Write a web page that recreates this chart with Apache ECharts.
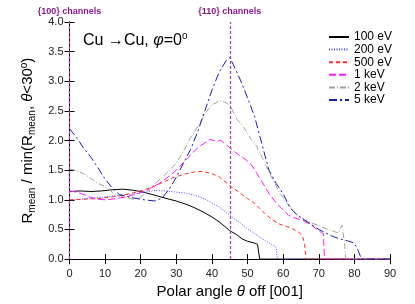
<!DOCTYPE html>
<html><head><meta charset="utf-8">
<script src="https://cdn.jsdelivr.net/npm/echarts@6/dist/echarts.min.js"></script>
<style>html,body{margin:0;padding:0;background:#fff}#c{width:415px;height:304px}</style>
</head><body><div id="c"></div>
<script>
const seriesNames = ['100 eV','200 eV','500 eV','1 keV','2 keV','5 keV'];
const xTicks = [0,10,20,30,40,50,60,70,80,90];
const yTicks = [0,0.5,1,1.5,2,2.5,3,3.5,4];
const channelAngles = [0,45];
const channelLabels = ['{100} channels','{110} channels'];

const e100 = [[0,1.14],[3,1.15],[6,1.14],[9,1.15],[12,1.17],[15,1.18],[18,1.16],[20,1.14],[22,1.11],[25,1.06],[28,1.01],[30,0.98],[33,0.92],[35,0.87],[38,0.78],[40,0.71],[42,0.63],[44,0.53],[45,0.48],[47,0.41],[48.5,0.34],[50,0.30],[52,0.27],[52.8,0.25],[53.4,0],[90,0]];
const e200 = [[0,1.00],[3,1.01],[6,1.03],[10,1.05],[14,1.07],[18,1.10],[21,1.13],[24,1.16],[27,1.15],[30,1.13],[33,1.11],[35,1.08],[37,1.04],[40,0.95],[42,0.88],[45,0.74],[48,0.61],[50,0.51],[52,0.43],[55,0.31],[57,0.24],[58,0.2],[58.4,0],[90,0]];
const e500 = [[0,1.00],[4,1.01],[8,1.02],[12,1.05],[15,1.08],[18,1.12],[20,1.15],[23,1.21],[26,1.29],[29,1.37],[32,1.43],[35,1.47],[37.5,1.48],[40,1.44],[42,1.39],[45,1.24],[48,1.11],[50,1.02],[52,0.94],[55,0.76],[57,0.66],[59,0.59],[61,0.55],[63,0.50],[64.5,0.45],[65.5,0.38],[66,0.25],[66.4,0],[90,0]];
const e1k = [[0,1.15],[2,1.13],[4,1.09],[6,1.04],[8,1.01],[10,1.00],[13,1.02],[16,1.05],[19,1.10],[22,1.17],[25,1.27],[28,1.40],[30,1.50],[32,1.63],[34,1.76],[36,1.88],[38,1.96],[39.5,2.02],[41,1.99],[42.5,2.0],[44,1.93],[45,1.88],[47,1.78],[49,1.70],[51,1.60],[53,1.41],[55,1.21],[56.2,1.09],[58,0.95],[60,0.83],[61.5,0.74],[63,0.70],[65.6,0.65],[68,0.57],[70.7,0.45],[71.3,0.43],[71.6,0],[90,0]];
const e2k = [[0,1.52],[2,1.49],[4,1.44],[6,1.36],[8,1.28],[10,1.22],[12,1.13],[14,1.07],[16,1.04],[18,1.01],[20,1.05],[22,1.15],[24,1.27],[26,1.38],[28,1.49],[30,1.62],[32,1.82],[34,2.05],[36,2.23],[38,2.45],[40,2.6],[42,2.67],[43.5,2.65],[45,2.6],[47,2.36],[49,2.22],[51,2.02],[52.5,1.91],[55,1.6],[57,1.35],[59,1.12],[61,0.95],[63,0.8],[64,0.74],[66,0.66],[68,0.61],[71,0.54],[73,0.49],[75.5,0.44],[76.5,0.57],[77.2,0.3],[77.6,0],[90,0]];
const e5k = [[0,2.2],[2,2.05],[4,1.87],[6,1.72],[8,1.54],[10,1.35],[12,1.2],[14,1.09],[16,1.06],[18,1.03],[21,1.0],[24,0.98],[26,1.03],[28,1.18],[30,1.38],[32,1.62],[34,1.85],[36,2.15],[38,2.5],[40,2.85],[42,3.15],[44,3.35],[45,3.4],[46,3.28],[48,3.02],[50,2.72],[52,2.4],[54,1.95],[56,1.5],[58,1.28],[60,1.1],[62,0.86],[64,0.74],[66,0.66],[68,0.58],[70,0.5],[72,0.44],[74,0.38],[76,0.34],[78,0.31],[80,0.27],[81,0.15],[82,0],[90,0]];

const dataSets = [e100,e200,e500,e1k,e2k,e5k];
const colors = ['#000000','#4a4aff','#ff2a2a','#ff1aff','#a0a0a0','#1c1ca8'];
const dashes = ['solid',[1,1.5],[4,3],[7,3],[6,2,1,2],[8,3,2,3]];

const FONT = 'Liberation Sans, Arial, sans-serif';
const chart = echarts.init(document.getElementById('c'), null, {renderer:'canvas'});

const series = seriesNames.map((n,i)=>({
  name:n, type:'line', data:dataSets[i], showSymbol:false, symbol:'none',
  xAxisIndex:0, yAxisIndex:0,
  lineStyle:{color:colors[i], width:1, type:dashes[i]},
  itemStyle:{color:colors[i]}, z: 3
}));
series.push({
  name:'channels', type:'line', data:[], xAxisIndex:0, yAxisIndex:0,
  markLine:{
    silent:true, symbol:['none','none'],
    lineStyle:{color:'#a347a3', type:[3,2], width:1.3},
    label:{position:'end', color:'#8a1a8a', fontWeight:'bold', fontSize:9, fontFamily:FONT, distance:6,
      formatter:(p)=>channelLabels[channelAngles.indexOf(p.value)]},
    data: channelAngles.map(a=>({xAxis:a}))
  }, z:4
});

const axisCommon = {
  axisLine:{show:true, lineStyle:{color:'#000', width:1}},
  axisTick:{show:true, inside:true, length:5, lineStyle:{color:'#000'}},
  splitLine:{show:false}
};

chart.setOption({
  animation:false,
  textStyle:{fontFamily:FONT},
  grid:{left:69.5, right:25, top:22, bottom:37, containLabel:false},
  title:{
    left:78, top:26,
    text:'{a|Cu →Cu, }{i|φ}{a|=0}{s|o}',
    textStyle:{rich:{
      a:{fontSize:16, fontFamily:FONT, color:'#000', fontWeight:'normal'},
      i:{fontSize:16, fontFamily:FONT, fontStyle:'italic', color:'#000', fontWeight:'normal'},
      s:{fontSize:10, fontFamily:FONT, color:'#000', fontWeight:'normal', verticalAlign:'top', padding:[0,0,10,0]}
    }}
  },
  legend:{
    orient:'vertical', left:323, top:26, itemWidth:20, itemHeight:10, itemGap:0.6,
    data:seriesNames,
    textStyle:{fontSize:12, fontFamily:FONT, color:'#000'},
    itemStyle:{color:'rgba(0,0,0,0)', borderWidth:0, opacity:0}
  },
  xAxis:[
    Object.assign({}, axisCommon, {
      type:'value', position:'bottom', min:0, max:90, interval:10,
      axisLabel:{fontSize:11, color:'#222', margin:9, fontFamily:FONT},
      name:'{a|Polar angle }{i|θ}{a| off [001]}', nameLocation:'middle', nameGap:19,
      nameTextStyle:{rich:{a:{fontSize:15, fontFamily:FONT, color:'#000'}, i:{fontSize:15, fontFamily:FONT, fontStyle:'italic', color:'#000'}}}
    }),
    Object.assign({}, axisCommon, {
      type:'value', position:'top', min:0, max:90, interval:10, axisLabel:{show:false}
    })
  ],
  yAxis:[
    Object.assign({}, axisCommon, {
      type:'value', position:'left', min:0, max:4, interval:0.5,
      axisLabel:{fontSize:11, color:'#222', margin:6, fontFamily:FONT, formatter:(v)=>v.toFixed(1)},
      name:'{a|R}{b|mean}{a| / min(R}{b|mean}{a|, }{i|θ}{a|<30}{s|o}{a|)}',
      nameLocation:'middle', nameRotate:90, nameGap:15,
      nameTextStyle:{rich:{
        a:{fontSize:15, fontFamily:FONT, color:'#000'},
        i:{fontSize:15, fontFamily:FONT, fontStyle:'italic', color:'#000'},
        b:{fontSize:10, fontFamily:FONT, color:'#000', verticalAlign:'bottom', padding:[6,0,0,0]},
        s:{fontSize:10, fontFamily:FONT, color:'#000', verticalAlign:'top', padding:[0,0,8,0]}
      }}
    }),
    Object.assign({}, axisCommon, {
      type:'value', position:'right', min:0, max:4, interval:0.5, axisLabel:{show:false}
    })
  ],
  series:series
});
</script></body></html>
